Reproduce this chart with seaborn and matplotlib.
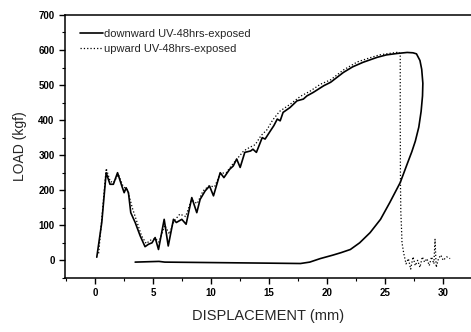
import matplotlib
matplotlib.use("Agg")
import matplotlib.pyplot as plt
import seaborn as sns
import pandas as pd
from matplotlib.ticker import MultipleLocator

# ---- data ----
down_x = [0.14, 0.57, 0.95, 1.28, 1.57, 1.93, 2.3, 2.5, 2.67, 2.87, 3.07, 3.45, 3.88, 4.3, 4.6,
          4.9, 5.17, 5.46, 5.95, 6.3, 6.75, 7.0, 7.47, 7.84, 8.33, 8.76, 9.05, 9.48, 9.86, 10.2,
          10.78, 11.1, 11.6, 11.9, 12.2, 12.5, 12.9, 13.4, 13.6, 13.9, 14.4, 14.65, 15.1, 15.4,
          15.7, 15.95, 16.2, 16.8, 17.4, 17.95, 18.25, 18.8, 19.7, 20.3, 21.4, 22.2, 23.1, 24.3,
          25.1, 26.0, 26.9, 27.4, 27.7, 28.0, 28.15, 28.25, 28.22, 28.1, 27.9, 27.6, 27.3, 26.9,
          26.3, 25.4, 24.6, 23.7, 22.8, 22.0, 21.2, 20.5, 19.4, 18.5, 17.7, 15.0, 12.0, 9.0,
          6.0, 5.5, 3.45]
down_y = [9, 108, 250, 217, 217, 250, 212, 193, 207, 193, 136, 108, 70, 39, 46,
          50, 65, 31, 117, 41, 117, 108, 117, 103, 179, 136, 174, 198, 212, 184,
          250, 236, 260, 269, 289, 265, 308, 312, 317, 308, 350, 346, 369, 384,
          403, 398, 422, 436, 455, 460, 469, 479, 498, 508, 536, 552, 565, 579,
          586, 590, 593, 592, 589, 570, 545, 505, 469, 425, 380, 340, 310, 275,
          222, 165, 117, 79, 50, 31, 22, 15, 5, -5, -9, -8, -7, -6,
          -5, -3, -5]

up_x = [0.3, 0.6, 0.95, 1.3, 1.6, 2.0, 2.4, 2.8, 3.2, 3.6, 4.0, 4.4, 4.8, 5.2, 5.5, 6.0, 6.4,
        6.8, 7.3, 7.8, 8.3, 8.8, 9.3, 9.8, 10.3, 10.8, 11.3, 11.8, 12.3, 12.8, 13.3, 13.8,
        14.3, 14.8, 15.3, 15.9, 16.8, 17.7, 18.5, 19.4, 20.3, 21.4, 22.6, 23.7, 24.5, 25.3,
        26.2, 26.3, 26.3, 26.32, 26.35, 26.4, 26.45, 26.6, 26.8, 27.0, 27.2, 27.4, 27.6, 27.8,
        28.0, 28.2, 28.4, 28.6, 28.8, 29.0, 29.2, 29.3, 29.4, 29.6, 29.8, 30.0, 30.3, 30.6]
up_y = [20, 130, 262, 225, 222, 245, 212, 200, 150, 110, 70, 48, 58, 62, 52, 100, 75,
        112, 132, 125, 172, 162, 198, 212, 210, 248, 250, 272, 292, 312, 322, 330,
        356, 372, 400, 425, 445, 468, 482, 502, 515, 543, 566, 578, 586, 590,
        594, 585, 400, 220, 137, 100, 51, 20, -10, 5, -25, 10, -15, 0,
        -20, 10, -5, 5, -15, 10, -10, 60, -20, 5, 15, 0, 10, 5]

labels = ["downward UV-48hrs-exposed", "upward UV-48hrs-exposed"]
x_label = "DISPLACEMENT (mm)"
y_label = "LOAD (kgf)"

sns.set_style("ticks")
plt.rcParams["font.family"] = ["Liberation Sans", "DejaVu Sans"]

fig = plt.figure(figsize=(4.71, 3.32), dpi=100)
ax = fig.add_axes([0.138, 0.163, 0.862, 0.792])

df_down = pd.DataFrame({"x": down_x, "y": down_y})
df_up = pd.DataFrame({"x": up_x, "y": up_y})
sns.lineplot(data=df_down, x="x", y="y", sort=False, estimator=None, color="black",
             linewidth=1.2, ax=ax, label=labels[0])
sns.lineplot(data=df_up, x="x", y="y", sort=False, estimator=None, color="black",
             linewidth=0.9, linestyle=":", ax=ax, label=labels[1])

ax.set_xlim(-2.6, 32.4)
ax.set_ylim(-50, 700)
ax.xaxis.set_major_locator(MultipleLocator(5))
ax.xaxis.set_minor_locator(MultipleLocator(2.5))
ax.yaxis.set_major_locator(MultipleLocator(100))
ax.yaxis.set_minor_locator(MultipleLocator(50))
ax.tick_params(which="major", length=4, width=1, labelsize=7, color="black", labelcolor="black")
ax.tick_params(which="minor", length=2, width=0.8, color="black")
for lab in ax.get_xticklabels() + ax.get_yticklabels():
    lab.set_fontweight("bold")
for s in ["left", "bottom", "top"]:
    ax.spines[s].set_visible(True)
    ax.spines[s].set_linewidth(1.1)
    ax.spines[s].set_color("black")
ax.spines["right"].set_visible(False)

ax.set_xlabel(x_label, fontsize=10.5, labelpad=8)
ax.set_ylabel(y_label, fontsize=10, labelpad=8)

leg = ax.legend(loc="upper left", frameon=False, fontsize=8, handlelength=2.1,
                handletextpad=0.1, borderaxespad=0, borderpad=0, labelspacing=0.45,
                bbox_to_anchor=(15 / 406, 1 - 14 / 263))

fig.savefig("out.png", dpi=100)
